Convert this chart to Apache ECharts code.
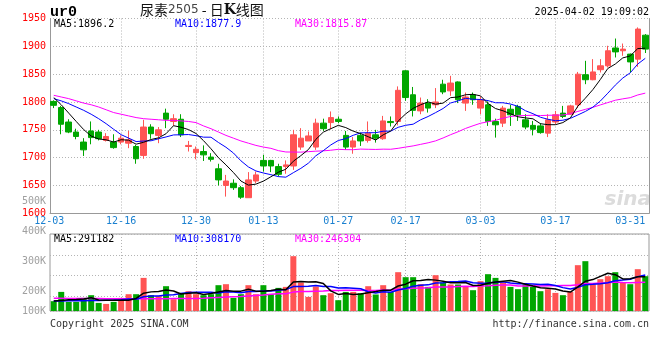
<!DOCTYPE html>
<html><head><meta charset="utf-8">
<script src="https://cdn.jsdelivr.net/npm/echarts@6/dist/echarts.min.js"></script>
<style>html,body{margin:0;padding:0;background:#fff}#c{width:660px;height:360px}</style>
</head><body><div id="c"></div>
<script>
// ---- data ----
const dates = [
 '12-03','12-04','12-05','12-06','12-09','12-10','12-11','12-12','12-13','12-16',
 '12-17','12-18','12-19','12-20','12-23','12-24','12-25','12-26','12-27','12-30',
 '12-31','01-02','01-03','01-06','01-07','01-08','01-09','01-10','01-13','01-14',
 '01-15','01-16','01-17','01-20','01-21','01-22','01-23','01-24','01-27','02-05',
 '02-06','02-07','02-10','02-11','02-12','02-13','02-14','02-17','02-18','02-19',
 '02-20','02-21','02-24','02-25','02-26','02-27','02-28','03-03','03-04','03-05',
 '03-06','03-07','03-10','03-11','03-12','03-13','03-14','03-17','03-18','03-19',
 '03-20','03-21','03-24','03-25','03-26','03-27','03-28','03-31','04-01','04-02'];
const opens = [
 1801,1790,1764,1746,1728,1748,1746,1731,1728,1728,
 1726,1720,1704,1755,1740,1780,1765,1769,1720,1709,
 1711,1701,1680,1650,1654,1646,1628,1658,1695,1695,
 1684,1684,1685,1719,1730,1719,1762,1763,1769,1740,
 1719,1740,1731,1741,1734,1765,1765,1856,1813,1784,
 1798,1795,1832,1820,1836,1798,1813,1789,1795,1765,
 1762,1787,1792,1768,1758,1757,1744,1764,1780,1778,
 1795,1849,1840,1858,1865,1897,1892,1886,1877,1920];
const closes = [
 1794,1760,1746,1738,1714,1736,1734,1738,1718,1735,
 1732,1698,1755,1743,1750,1769,1770,1741,1722,1715,
 1705,1697,1660,1658,1646,1629,1660,1669,1685,1685,
 1670,1687,1741,1735,1739,1762,1752,1772,1765,1719,
 1730,1730,1744,1735,1766,1763,1821,1808,1785,1798,
 1789,1800,1818,1834,1804,1809,1804,1804,1765,1759,
 1789,1777,1777,1755,1751,1745,1768,1777,1774,1793,
 1850,1840,1854,1865,1892,1890,1895,1872,1931,1895];
const highs = [
 1803,1793,1769,1752,1735,1765,1750,1744,1742,1740,
 1748,1723,1768,1760,1755,1788,1778,1778,1730,1720,
 1722,1708,1689,1669,1661,1649,1674,1675,1705,1696,
 1689,1695,1750,1753,1747,1770,1770,1783,1774,1748,
 1737,1745,1765,1750,1775,1774,1828,1857,1827,1808,
 1805,1825,1840,1847,1837,1817,1817,1810,1801,1770,
 1793,1795,1795,1778,1766,1762,1778,1784,1793,1795,
 1854,1874,1877,1877,1901,1914,1905,1887,1934,1922];
const lows = [
 1789,1742,1744,1733,1703,1724,1731,1729,1716,1724,
 1717,1689,1698,1734,1726,1753,1757,1737,1711,1697,
 1694,1693,1650,1630,1642,1626,1628,1654,1675,1674,
 1666,1671,1678,1714,1730,1714,1748,1751,1762,1714,
 1707,1721,1727,1727,1732,1756,1758,1802,1774,1778,
 1781,1789,1814,1811,1798,1784,1795,1778,1757,1736,
 1755,1757,1766,1751,1740,1743,1737,1760,1771,1777,
 1789,1832,1839,1853,1862,1880,1883,1853,1863,1888];
const volumes = [
 83300,162300,77300,77300,111300,134300,68800,60300,77300,111300,
 142700,142700,281200,134300,125800,210700,100300,153800,168200,142700,
 134300,142700,219200,227700,111300,142700,219200,142700,219200,142700,
 196300,204800,465600,242200,119800,208200,134300,151200,91800,162300,
 162300,151200,210700,140200,219200,162300,329700,287200,287200,227700,
 204800,304200,242200,225200,225200,210700,176700,253200,312700,281200,
 242200,204800,185200,225200,204800,168200,185200,153800,134300,162300,
 389200,423200,225200,270200,295700,329700,242200,227700,355200,295700];
const priceMa5Head  = [1808,1795,1780,1765];
const priceMa10Head = [1806,1802,1797,1791,1785,1778,1770,1761,1751];
const priceMa30Head = [1812,1809,1806,1802,1798,1795,1791,1786,1781,1778,1775,1772,1770,1769,1768,1767,1767,1766,1765,1763,1757,1752,1746,1740,1735,1730,1726,1722,1719];
const volMa5Head  = [85000,90000,95000,98000];
const volMa10Head = [84000,85000,86000,87000,88000,89000,90000,92000,94000];
const volMa30Head = [108000,108000,107000,107000,107000,106000,106000,105000,105000,104000,104000,104000,104000,105000,105000,105000,106000,106000,106000,107000,109000,112000,115000,118000,121000,124000,128000,132000,136000];
const labelDates = ['12-03','12-16','12-30','01-13','01-27','02-17','03-03','03-17','03-31'];
const gridDates  = ['12-16','12-30','01-13','01-27','02-17','03-03','03-17'];
const priceTicks = {min:1600, max:1950, step:50};
const volLabels  = ['100K','200K','300K','400K','500K'];
const legendMain = ['MA5:1896.2','MA10:1877.9','MA30:1815.87'];
const legendVol  = ['MA5:291182','MA10:308170','MA30:246304'];

// ---- helpers ----
function movingAvg(vals, n, head){
  return vals.map((v,i)=>{
    if(i < n-1) return head[i];
    let s=0; for(let k=i-n+1;k<=i;k++) s+=vals[k];
    return +(s/n).toFixed(2);
  });
}
const UP='#ff5454', DOWN='#00a600';
const mono='"DejaVu Sans Mono", "Liberation Mono", monospace';
const dotted={color:'#b4b4b4', type:[1,2], width:1};
const isGrid=(i,v)=>gridDates.indexOf(v)>=0;

const chart = echarts.init(document.getElementById('c'), null, {renderer:'canvas', width:660, height:360});
const option = {
  animation:false,
  backgroundColor:'#fff',
  grid:[
    {left:50, right:11, top:18.5, height:194.8, show:false},
    {left:50, right:11, top:234, height:77, show:true, borderColor:'#999', borderWidth:1},
    {left:50, right:11, top:201, height:120, show:false}
  ],
  xAxis:[
    {type:'category', gridIndex:0, data:dates, boundaryGap:true,
     axisLine:{show:true, lineStyle:{color:'#999'}}, axisTick:{show:false},
     axisLabel:{interval:(i,v)=>labelDates.indexOf(v)>=0, color:'#1a80d0', fontFamily:mono, fontSize:10, margin:3,
       formatter:(v,i)=> i===0 ? '{f|'+v+'}' : v,
       rich:{f:{padding:[0,9,0,0], color:'#1a80d0', fontFamily:mono, fontSize:10}}},
     splitLine:{show:true, alignWithLabel:true, interval:isGrid, lineStyle:dotted}},
    {type:'category', gridIndex:1, data:dates, boundaryGap:true,
     axisLine:{show:false}, axisTick:{show:false}, axisLabel:{show:false},
     splitLine:{show:true, alignWithLabel:true, interval:isGrid, lineStyle:dotted}},
    {type:'category', gridIndex:2, data:dates, show:false}
  ],
  yAxis:[
    {type:'value', gridIndex:0, min:priceTicks.min, max:priceTicks.max, interval:priceTicks.step, position:'left',
     axisLine:{show:true, lineStyle:{color:'#999'}}, axisTick:{show:false},
     axisLabel:{color:'#ff0000', fontFamily:mono, fontSize:10, margin:4, padding:[0,0,4,0], formatter:v=>String(v)},
     splitLine:{show:true, lineStyle:dotted}},
    {type:'value', gridIndex:1, min:0, max:654000,
     axisLine:{show:false}, axisTick:{show:false}, axisLabel:{show:false}, splitLine:{show:false}},
    {type:'value', gridIndex:2, min:100000, max:500000, interval:100000, position:'left',
     axisLine:{show:false}, axisTick:{show:false}, splitLine:{show:false},
     axisLabel:{color:'#a0a0a0', fontFamily:mono, fontSize:10, margin:4,
       formatter:v=>{const t=volLabels[Math.round(v/100000)-1]; return v===100000?'{low|'+t+'}':t;},
       rich:{low:{padding:[0,0,20,0], color:'#a0a0a0', fontFamily:mono, fontSize:10}}}},
    {type:'value', gridIndex:1, min:0, max:3.71, interval:1, inverse:true, position:'left',
     axisLine:{show:false}, axisTick:{show:false}, axisLabel:{show:false},
     splitLine:{show:true, lineStyle:dotted}},
    {type:'value', gridIndex:0, min:priceTicks.min, max:priceTicks.max, position:'right',
     axisLine:{show:true, onZero:false, lineStyle:{color:'#999'}}, axisTick:{show:false}, axisLabel:{show:false}, splitLine:{show:false}}
  ],
  series:[
    {type:'candlestick', xAxisIndex:0, yAxisIndex:0, barWidth:6,
     data:dates.map((d,i)=>[opens[i],closes[i],lows[i],highs[i]]),
     itemStyle:{color:UP, color0:DOWN, borderColor:UP, borderColor0:DOWN, borderColorDoji:UP, borderWidth:1}},
    {type:'line', xAxisIndex:0, yAxisIndex:0, symbol:'none', data:movingAvg(closes,30,priceMa30Head), lineStyle:{color:'#ff00ff', width:1}, z:3},
    {type:'line', xAxisIndex:0, yAxisIndex:0, symbol:'none', data:movingAvg(closes,10,priceMa10Head), lineStyle:{color:'#0000ff', width:1}, z:3},
    {type:'line', xAxisIndex:0, yAxisIndex:0, symbol:'none', data:movingAvg(closes,5,priceMa5Head), lineStyle:{color:'#000000', width:1}, z:4},
    {type:'bar', xAxisIndex:1, yAxisIndex:1, barWidth:6,
     data:volumes.map((v,i)=>({value:v, itemStyle:{color: closes[i]>=opens[i]?UP:DOWN}}))},
    {type:'line', xAxisIndex:1, yAxisIndex:1, symbol:'none', data:movingAvg(volumes,30,volMa30Head), lineStyle:{color:'#ff00ff', width:1.5}, z:3},
    {type:'line', xAxisIndex:1, yAxisIndex:1, symbol:'none', data:movingAvg(volumes,10,volMa10Head), lineStyle:{color:'#0000ff', width:1.5}, z:3},
    {type:'line', xAxisIndex:1, yAxisIndex:1, symbol:'none', data:movingAvg(volumes,5,volMa5Head), lineStyle:{color:'#000000', width:1.5}, z:4},
    {type:'line', xAxisIndex:2, yAxisIndex:2, data:[], silent:true}
  ],
  graphic:[
    {type:'text', x:50, y:12, style:{text:'ur0', fill:'#000', font:'bold 15px "Liberation Mono", monospace', verticalAlign:'middle'}},
    {type:'text', x:140, y:10, style:{text:'{a|尿素}{b|2505}{a| - 日}{k|K}{a|线图}', verticalAlign:'middle',
      rich:{a:{fill:'#111', font:'14px "Noto Sans CJK SC"'}, b:{fill:'#444', font:'12px "DejaVu Sans", sans-serif'}, k:{fill:'#111', font:'bold 14px "DejaVu Serif", serif'}}}},
    {type:'text', x:649, y:12, style:{text:'2025-04-02 19:09:02', fill:'#000', font:'10px '+mono, textAlign:'right', verticalAlign:'middle'}},
    {type:'text', x:54, y:24, style:{text:legendMain[0], fill:'#000', font:'10px '+mono, verticalAlign:'middle'}},
    {type:'text', x:175, y:24, style:{text:legendMain[1], fill:'#0000ff', font:'10px '+mono, verticalAlign:'middle'}},
    {type:'text', x:295, y:24, style:{text:legendMain[2], fill:'#ff00ff', font:'10px '+mono, verticalAlign:'middle'}},
    {type:'text', x:54, y:239, style:{text:legendVol[0], fill:'#000', font:'10px '+mono, verticalAlign:'middle'}},
    {type:'text', x:175, y:239, style:{text:legendVol[1], fill:'#0000ff', font:'10px '+mono, verticalAlign:'middle'}},
    {type:'text', x:295, y:239, style:{text:legendVol[2], fill:'#ff00ff', font:'10px '+mono, verticalAlign:'middle'}},
    {type:'text', x:50, y:324, style:{text:'Copyright 2025 SINA.COM', fill:'#333', font:'10px '+mono, verticalAlign:'middle'}},
    {type:'text', x:649, y:324, style:{text:'http://finance.sina.com.cn', fill:'#333', font:'10px '+mono, textAlign:'right', verticalAlign:'middle'}},
    {type:'text', x:651, y:200, z:-1, style:{text:'sina', fill:'#dcdcdc', font:'italic bold 20px "DejaVu Sans", sans-serif', textAlign:'right', verticalAlign:'middle'}}
  ]
};
chart.setOption(option);
</script></body></html>
